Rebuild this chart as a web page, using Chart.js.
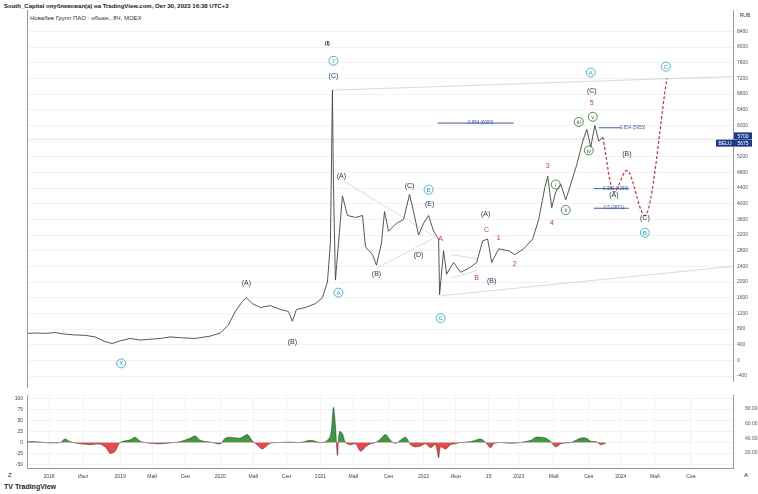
<!DOCTYPE html>
<html><head><meta charset="utf-8">
<script src="https://cdn.jsdelivr.net/npm/chart.js@4"></script>
<style>
body{margin:0;width:758px;height:494px;background:#fff;font-family:"Liberation Sans",Arial,sans-serif;position:relative;overflow:hidden}
#c1{position:absolute;left:0;top:0}
#c2{position:absolute;left:0;top:388px}
.t{position:absolute;font-size:6px;color:#222;white-space:nowrap}
</style></head><body>
<div class="t" style="left:4px;top:3px;font-weight:bold">South_Capital опубликовал(а) на TradingView.com, Окт 30, 2023 16:38 UTC+3</div>
<div class="t" style="left:30px;top:15px;color:#333">Новабев Групп ПАО · обыкн., 8Ч, MOEX</div>
<div class="t" style="left:4px;top:483px;font-weight:bold;font-size:7px">TV TradingView</div>
<div class="t" style="left:8px;top:472px">Z</div><div class="t" style="left:744px;top:472px">A</div>
<canvas id="c1" width="758" height="388"></canvas>
<canvas id="c2" width="758" height="98"></canvas>
<script>
const priceX=[2018.02,2018.15,2018.25,2018.35,2018.45,2018.55,2018.65,2018.75,2018.85,2018.92,2019.0,2019.1,2019.2,2019.3,2019.4,2019.5,2019.6,2019.75,2019.9,2020.0,2020.08,2020.15,2020.22,2020.26,2020.32,2020.4,2020.5,2020.6,2020.68,2020.72,2020.76,2020.85,2020.95,2021.02,2021.07,2021.1,2021.12,2021.13,2021.15,2021.22,2021.27,2021.35,2021.42,2021.45,2021.52,2021.56,2021.61,2021.64,2021.68,2021.76,2021.83,2021.89,2021.93,2021.98,2022.03,2022.08,2022.13,2022.18,2022.19,2022.23,2022.26,2022.33,2022.4,2022.48,2022.56,2022.62,2022.67,2022.71,2022.78,2022.88,2022.94,2023.03,2023.12,2023.18,2023.24,2023.27,2023.31,2023.35,2023.4,2023.45,2023.5,2023.56,2023.62,2023.66,2023.7,2023.74,2023.78,2023.82];
const priceY=[680,700,690,710,670,650,640,600,480,430,500,560,520,540,560,600,580,560,620,700,900,1250,1500,1600,1450,1350,1400,1300,1250,1000,1300,1350,1450,1600,2000,3000,6900,4500,2050,4200,3700,3650,3700,2900,2700,2430,3000,3800,3300,3500,3600,4240,3800,3200,3500,3700,3300,3100,1680,2800,2200,2500,2250,2350,2500,3050,3100,2500,2850,2800,2700,2850,3100,3600,4400,4700,3900,4300,4500,4100,4500,5000,5600,5900,5450,6000,5600,5700];
const projX=[2023.82,2023.93,2024.06,2024.24,2024.46];
const projY=[5700,4300,4850,3700,7200];
const oscX=[2018.0,2018.1,2018.2,2018.3,2018.4,2018.45,2018.5,2018.6,2018.7,2018.8,2018.86,2018.9,2018.95,2019.0,2019.1,2019.15,2019.2,2019.3,2019.4,2019.5,2019.6,2019.7,2019.75,2019.8,2019.9,2020.0,2020.05,2020.1,2020.2,2020.27,2020.32,2020.38,2020.42,2020.5,2020.6,2020.7,2020.8,2020.9,2021.0,2021.05,2021.1,2021.13,2021.15,2021.17,2021.19,2021.22,2021.25,2021.3,2021.35,2021.4,2021.45,2021.5,2021.55,2021.6,2021.65,2021.7,2021.75,2021.85,2021.9,2021.95,2022.0,2022.05,2022.1,2022.15,2022.18,2022.2,2022.25,2022.3,2022.35,2022.4,2022.5,2022.6,2022.65,2022.7,2022.73,2022.8,2022.9,2023.0,2023.1,2023.15,2023.2,2023.25,2023.3,2023.35,2023.4,2023.5,2023.55,2023.6,2023.65,2023.7,2023.75,2023.8,2023.85];
const oscY=[-2,2,1,-1,0,8,2,-3,-5,-4,-12,-25,-20,0,6,12,3,-2,-3,-1,2,10,15,5,1,-3,10,12,10,18,4,-8,-15,-2,0,1,0,5,0,2,15,80,40,-30,25,20,0,-5,-3,-20,-10,-3,0,8,18,5,-2,12,-5,-10,-8,-3,-12,-5,-35,-10,-15,-5,-3,0,2,8,0,-12,-3,0,-2,0,5,12,12,10,2,-10,-3,0,5,10,10,3,2,-5,-2];
const yTicks=[-400,0,400,800,1200,1600,2000,2400,2800,3200,3600,4000,4400,4800,5200,5600,6000,6400,6800,7200,7600,8000,8400];
const xTickVals=[2018.29,2018.63,2019.0,2019.32,2019.65,2020.0,2020.33,2020.66,2021.0,2021.33,2021.68,2022.03,2022.35,2022.68,2022.98,2023.33,2023.68,2024.0,2024.34,2024.7];
const xTickLabels=["2018","Июл","2019","Май","Сен","2020","Май","Сен","2021","Май","Сен","2022","Июн","15","2023","Май","Сен","2024","Май","Сен"];
const oscTicks=[-50,-25,0,25,50,75,100];
const volTicks=[20,40,60,80];
const labels=[
[2021.07,8100,"(I)","k"],[2021.13,7650,"Y","ct"],[2021.13,7250,"(C)","n"],
[2020.26,1980,"(A)","n"],[2020.72,480,"(B)","n"],[2019.01,-75,"X","ct"],
[2021.21,4710,"(A)","n"],[2021.18,1730,"A","ct"],[2021.56,2200,"(B)","n"],
[2021.89,4440,"(C)","n"],[2022.08,4360,"B","ct"],[2022.09,3980,"(E)","n"],
[2021.98,2700,"(D)","n"],[2022.2,3100,"A","r"],[2022.2,1080,"C","ct"],
[2022.65,3740,"(A)","n"],[2022.66,3330,"C","r"],[2022.78,3120,"1","r"],
[2022.56,2100,"B","r"],[2022.71,2030,"(B)","n"],[2022.94,2460,"2","r"],
[2023.27,4950,"3","r"],[2023.35,4490,"i","cg"],[2023.31,3510,"4","r"],
[2023.45,3840,"ii","cg"],[2023.58,6090,"iii","cg"],[2023.68,5360,"iv","cg"],
[2023.72,6220,"v","cg"],[2023.71,6870,"(C)","n"],[2023.71,6570,"5","r"],
[2023.70,7350,"A","ct"],[2024.06,5260,"(B)","n"],[2023.93,4210,"(A)","n"],
[2024.24,3630,"(C)","n"],[2024.24,3260,"B","ct"],[2024.45,7500,"C","ct"]];
const fibs=[[2022.17,2022.93,6060,"0.854 (6083)",2022.6],[2023.78,2024.0,5940,"0.854 (5955)",2024.12],[2023.73,2024.08,4386,"0.382 (4259)",2023.95],[2023.73,2024.08,3885,"0.5 (3871)",2023.93]];
const trendLines=[[2021.12,6900,2025.12,7250,'rgba(150,190,180,0.6)'],[2022.2,1650,2025.12,2400,'rgba(150,190,180,0.6)'],[2021.22,4600,2022.15,3150,'rgba(160,200,170,0.6)'],[2021.56,2350,2022.15,3150,'rgba(160,200,170,0.6)'],[2022.3,2100,2022.57,2300,'rgba(160,200,170,0.6)'],[2022.3,2700,2022.57,2600,'rgba(160,200,170,0.6)'],[2018.0,5650,2025.12,5650,'rgba(120,120,140,0.5)']];

const XMIN=2018.07,XMAX=2025.12;
const pts=(xs,ys)=>xs.map((x,i)=>({x,y:ys[i]}));
const fixW=w=>function(s){s.width=w;};
const ds=[
 {data:pts(priceX,priceY),borderColor:'#444',borderWidth:0.9,pointRadius:0,tension:0},
 {data:pts(projX,projY),borderColor:'#c8324a',borderWidth:1.2,borderDash:[3,2],pointRadius:0,tension:0.45,cubicInterpolationMode:'monotone'}
];
trendLines.forEach(t=>ds.push({data:[{x:t[0],y:t[1]},{x:t[2],y:t[3]}],borderColor:t[4],borderWidth:0.8,pointRadius:0,borderDash:t[1]===t[3]?[1,1]:[]}));
fibs.forEach(f=>ds.push({data:[{x:f[0],y:f[2]},{x:f[1],y:f[2]}],borderColor:'#3d5a9e',borderWidth:1,pointRadius:0}));

const textPlugin={id:'txt',afterDatasetsDraw(ch){
 const c=ch.ctx,xs=ch.scales.x,ys=ch.scales.y;c.save();c.textAlign='center';c.textBaseline='middle';
 labels.forEach(l=>{const px=xs.getPixelForValue(l[0]),py=ys.getPixelForValue(l[1]);
  if(l[3]==='ct'||l[3]==='cg'){const col=l[3]==='ct'?'#1fa5c4':'#2e6b2e';c.strokeStyle=col;c.lineWidth=0.8;c.beginPath();c.arc(px,py,4.5,0,Math.PI*2);c.stroke();c.fillStyle=col;c.font='6px Liberation Sans';c.fillText(l[2],px,py+0.5);}
  else{c.fillStyle=l[3]==='r'?'#cc3b4a':(l[3]==='k'?'#111':'#2a2f5e');c.font=(l[3]==='k'?'bold 5px ':'7px ')+'Liberation Sans';c.fillText(l[2],px,py);}
 });
 c.fillStyle='#3d5a9e';c.font='4.5px Liberation Sans';
 fibs.forEach(f=>c.fillText(f[3],xs.getPixelForValue(f[4]),ys.getPixelForValue(f[2])));
 const by1=ys.getPixelForValue(5720),by2=ys.getPixelForValue(5560);
 c.fillStyle='#1e3a8a';c.fillRect(734,by1-4,18,7);c.fillRect(734,by2-3,18,7);c.fillRect(716,by2-3,18,7);
 c.fillStyle='#fff';c.font='5px Liberation Sans';c.fillText('5700',743,by1);c.fillText('5675',743,by2+0.5);c.fillText('BELU',725,by2+0.5);
 c.fillStyle='#333';c.fillText('RUB',745,16);
 c.strokeStyle='#999';c.lineWidth=1;c.beginPath();c.moveTo(27.5,10);c.lineTo(27.5,388);c.stroke();
 c.restore();}};

new Chart(document.getElementById('c1'),{type:'line',data:{datasets:ds},plugins:[textPlugin],
 options:{responsive:false,animation:false,layout:{padding:{left:27,top:10,right:0,bottom:0}},
  plugins:{legend:{display:false},tooltip:{enabled:false}},
  scales:{x:{type:'linear',min:XMIN,max:XMAX,display:false},
   y:{position:'right',min:-526,max:8947,afterFit:fixW(25),afterBuildTicks:a=>{a.ticks=yTicks.map(v=>({value:v}));},
    grid:{color:'#f2f2f2',drawTicks:false},border:{color:'#999'},ticks:{color:'#555',font:{size:5},padding:4,callback:v=>String(v)}}}}});

new Chart(document.getElementById('c2'),{type:'line',
 data:{datasets:[{data:pts(oscX,oscY),borderColor:'rgba(0,0,0,0.6)',borderWidth:0.6,pointRadius:0,tension:0.3,
  fill:{target:'origin',above:'#3f9a3f',below:'#e8484e'}}]},
 options:{responsive:false,animation:false,layout:{padding:{left:0,right:0,top:0,bottom:0}},
  plugins:{legend:{display:false},tooltip:{enabled:false}},
  scales:{x:{type:'linear',min:XMIN,max:XMAX,afterFit:s=>{s.height=18;},
    afterBuildTicks:a=>{a.ticks=xTickVals.map(v=>({value:v}));},
    grid:{color:'#f2f2f2',drawTicks:false},border:{color:'#999'},
    ticks:{color:'#444',font:{size:5},padding:6,maxRotation:0,autoSkip:false,callback:(v)=>{const i=xTickVals.indexOf(v);return i>=0?xTickLabels[i]:'';}}},
   y:{position:'left',min:-58,max:108,afterFit:fixW(27),afterBuildTicks:a=>{a.ticks=oscTicks.map(v=>({value:v}));},
    grid:{color:'#f2f2f2',drawTicks:false},border:{color:'#999'},ticks:{color:'#444',font:{size:5},padding:4}},
   y2:{position:'right',min:0,max:98,afterFit:fixW(25),afterBuildTicks:a=>{a.ticks=volTicks.map(v=>({value:v}));},
    grid:{display:false},border:{color:'#999'},ticks:{color:'#555',font:{size:5},padding:4,callback:v=>v.toFixed(2)}}}}});
</script></body></html>
